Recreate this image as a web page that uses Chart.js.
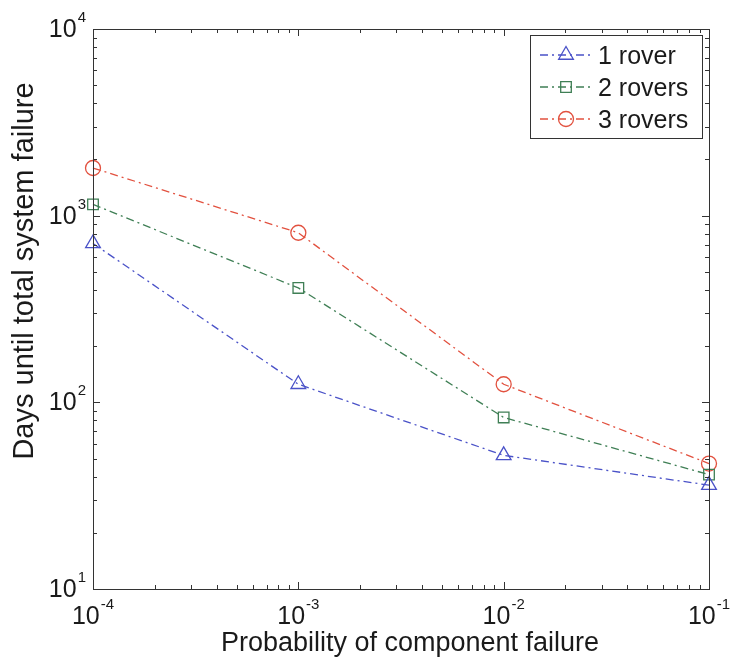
<!DOCTYPE html>
<html>
<head>
<meta charset="utf-8">
<script src="https://cdn.jsdelivr.net/npm/chart.js@4.4.0/dist/chart.umd.min.js"></script>
<style>
  body { margin: 0; background: #fff; }
</style>
</head>
<body>
<canvas id="myChart" width="734" height="660"></canvas>
<script>
// values
const probabilities = [1e-4, 1e-3, 1e-2, 1e-1]
const oneRover = [710, 125, 52, 36]
const twoRovers = [1150, 410, 83, 41]
const threeRovers = [1800, 810, 125, 47]
const seriesNames = ['1 rover', '2 rovers', '3 rovers']
const xTickExps = [-4, -3, -2, -1]
const yTickExps = [1, 2, 3, 4]
const xTitle = 'Probability of component failure'
const yTitle = 'Days until total system failure'

const fontFamily = '"Liberation Sans", Arial, sans-serif'
const axisColor = '#333'
const dashDot = [8, 4, 2, 4]

function toPoints(ys) {
  return probabilities.map((p, i) => ({ x: p, y: ys[i] }))
}

function makeSet(label, ys, color, style, radius) {
  return {
    label: label,
    data: toPoints(ys),
    borderColor: color,
    pointBorderColor: color,
    backgroundColor: 'rgba(0,0,0,0)',
    pointBackgroundColor: 'rgba(0,0,0,0)',
    borderWidth: 1.3,
    borderDash: dashDot,
    pointStyle: style,
    pointRadius: radius,
    pointBorderWidth: 1.3,
    tension: 0,
    clip: false
  }
}

// superscript tick label like 10^-3
function drawPow(ctx, x, baseline, exp, align) {
  ctx.font = '25px ' + fontFamily
  const w10 = ctx.measureText('10').width
  ctx.font = '15px ' + fontFamily
  const sup = String(exp)
  const wSup = ctx.measureText(sup).width
  const total = w10 + 1 + wSup
  let start = align == 'center' ? x - total / 2 : x - total
  ctx.textAlign = 'left'
  ctx.textBaseline = 'alphabetic'
  ctx.font = '25px ' + fontFamily
  ctx.fillText('10', start, baseline)
  ctx.font = '15px ' + fontFamily
  ctx.fillText(sup, start + w10 + 1, baseline - 15)
}

function logTickValues(lo, hi) {
  let out = []
  for (let e = lo; e < hi; e++) {
    for (let m = 1; m <= 9; m++) out.push({ v: m * Math.pow(10, e), major: m == 1 })
  }
  out.push({ v: Math.pow(10, hi), major: true })
  return out
}

const matlabAxes = {
  id: 'matlabAxes',
  afterDraw(chart) {
    const ctx = chart.ctx
    const a = chart.chartArea
    const xs = chart.scales.x
    const ys = chart.scales.y
    ctx.save()
    ctx.setLineDash([])
    ctx.strokeStyle = axisColor
    ctx.lineWidth = 1

    // inward ticks on all four sides
    ctx.beginPath()
    logTickValues(xTickExps[0], xTickExps[xTickExps.length - 1]).forEach(t => {
      const px = Math.round(xs.getPixelForValue(t.v)) + 0.5
      const len = t.major ? 7 : 4
      ctx.moveTo(px, a.bottom); ctx.lineTo(px, a.bottom - len)
      ctx.moveTo(px, a.top); ctx.lineTo(px, a.top + len)
    })
    logTickValues(yTickExps[0], yTickExps[yTickExps.length - 1]).forEach(t => {
      const py = Math.round(ys.getPixelForValue(t.v)) + 0.5
      const len = t.major ? 7 : 4
      ctx.moveTo(a.left, py); ctx.lineTo(a.left + len, py)
      ctx.moveTo(a.right, py); ctx.lineTo(a.right - len, py)
    })
    ctx.stroke()
    ctx.strokeRect(Math.round(a.left) + 0.5, Math.round(a.top) + 0.5, Math.round(a.width), Math.round(a.height))

    // tick labels
    ctx.fillStyle = '#1a1a1a'
    xTickExps.forEach(e => {
      drawPow(ctx, xs.getPixelForValue(Math.pow(10, e)), a.bottom + 35, e, 'center')
    })
    yTickExps.forEach(e => {
      drawPow(ctx, a.left - 7, ys.getPixelForValue(Math.pow(10, e)) + 8, e, 'right')
    })

    // axis titles
    ctx.font = '27px ' + fontFamily
    ctx.textAlign = 'center'
    ctx.textBaseline = 'alphabetic'
    ctx.fillText(xTitle, 410, 651)
    ctx.save()
    ctx.translate(33, 271)
    ctx.rotate(-Math.PI / 2)
    ctx.font = '29px ' + fontFamily
    ctx.fillText(yTitle, 0, 0)
    ctx.restore()

    // legend box
    ctx.fillStyle = '#fff'
    ctx.fillRect(530, 35, 172, 103)
    ctx.strokeStyle = axisColor
    ctx.strokeRect(530.5, 35.5, 172, 103)
    chart.data.datasets.forEach((ds, i) => {
      const ry = 55 + i * 32
      ctx.strokeStyle = ds.borderColor
      ctx.lineWidth = 1.3
      ctx.setLineDash(dashDot)
      ctx.beginPath()
      ctx.moveTo(540, ry); ctx.lineTo(590, ry)
      ctx.stroke()
      ctx.setLineDash([])
      ctx.fillStyle = 'rgba(0,0,0,0)'
      Chart.helpers.drawPoint(ctx, { pointStyle: ds.pointStyle, radius: ds.pointRadius, borderWidth: 1.3, rotation: 0 }, 566, ry)
      ctx.fillStyle = '#1a1a1a'
      ctx.font = '25px ' + fontFamily
      ctx.textAlign = 'left'
      ctx.fillText(ds.label, 598, ry + 9)
    })
    ctx.restore()
  }
}

new Chart(document.getElementById('myChart'), {
  type: 'line',
  data: {
    datasets: [
      makeSet(seriesNames[0], oneRover, '#4a52c8', 'triangle', 8.5),
      makeSet(seriesNames[1], twoRovers, '#3f7f55', 'rect', 7.5),
      makeSet(seriesNames[2], threeRovers, '#e2513f', 'circle', 7.5)
    ]
  },
  options: {
    responsive: false,
    animation: false,
    layout: { padding: { left: 93, top: 29, right: 25, bottom: 71 } },
    scales: {
      x: { type: 'logarithmic', display: false, min: 1e-4, max: 1e-1 },
      y: { type: 'logarithmic', display: false, min: 10, max: 1e4 }
    },
    plugins: {
      legend: { display: false },
      tooltip: { enabled: false }
    }
  },
  plugins: [matlabAxes]
})
</script>
</body>
</html>
